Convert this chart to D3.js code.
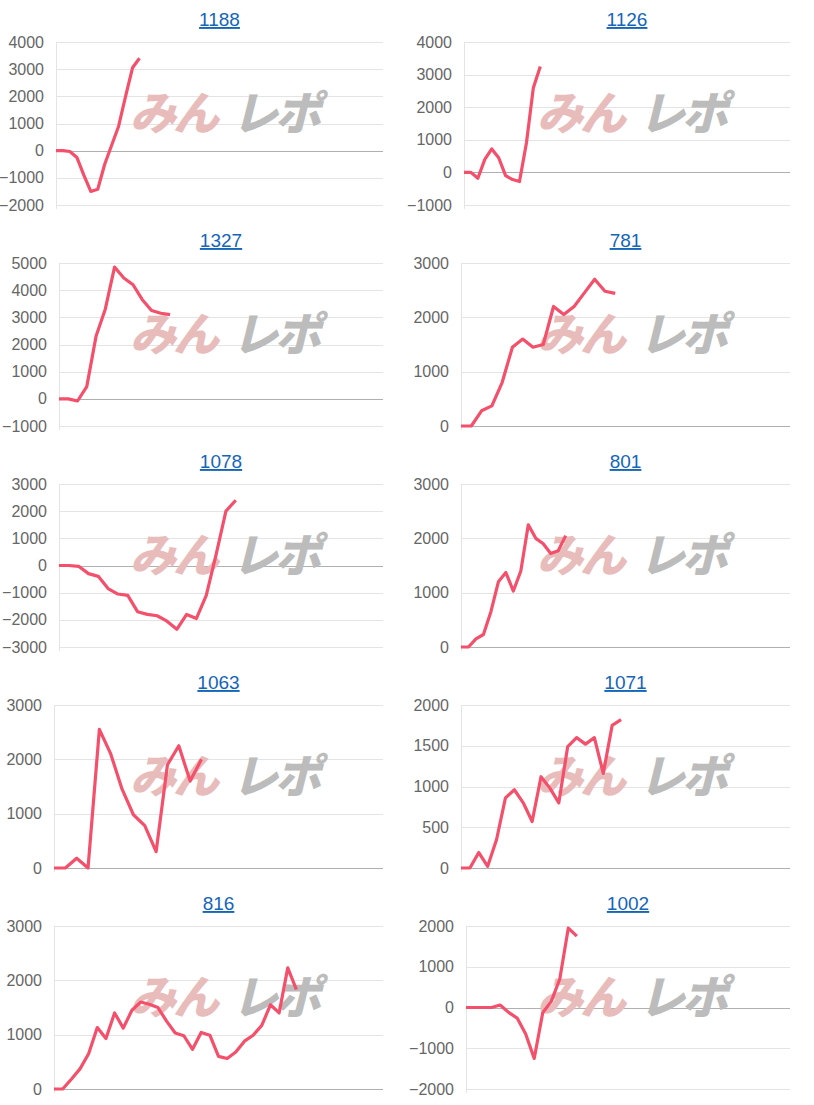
<!DOCTYPE html>
<html><head><meta charset="utf-8">
<script src="https://cdn.jsdelivr.net/npm/d3@7"></script>
<style>body{margin:0;background:#fff}svg{display:block}</style>
</head><body>
<script>
const titles = ["1188","1126","1327","781","1078","801","1063","1071","816","1002"];
const slotCounts = [47,47,35,32,33,44,29,37,38,38];
const yTicks = [
 [-2000,-1000,0,1000,2000,3000,4000],
 [-1000,0,1000,2000,3000,4000],
 [-1000,0,1000,2000,3000,4000,5000],
 [0,1000,2000,3000],
 [-3000,-2000,-1000,0,1000,2000,3000],
 [0,1000,2000,3000],
 [0,1000,2000,3000],
 [0,500,1000,1500,2000],
 [0,1000,2000,3000],
 [-2000,-1000,0,1000,2000]
];
const s1188 = [0,0,-30,-250,-900,-1500,-1420,-500,200,900,2000,3050,3400];
const s1126 = [0,0,-180,400,720,450,-100,-220,-280,900,2600,3250];
const s1327 = [0,0,-80,450,2300,3300,4850,4450,4200,3650,3250,3150,3100];
const s781 = [0,0,280,370,800,1450,1600,1450,1500,2200,2050,2200,2450,2700,2480,2440];
const s1078 = [0,0,-30,-300,-400,-850,-1050,-1100,-1700,-1800,-1850,-2050,-2350,-1800,-1950,-1100,400,2000,2400];
const s801 = [0,0,150,230,650,1200,1370,1030,1400,2250,2000,1900,1720,1770,2050];
const s1063 = [0,0,180,0,2550,2100,1450,980,780,300,1900,2250,1600,2000];
const s1071 = [0,0,190,20,350,860,960,800,570,1120,980,800,1490,1600,1520,1600,1160,1750,1820];
const s816 = [0,0,180,370,650,1130,930,1400,1120,1450,1600,1560,1500,1250,1030,980,730,1040,990,600,560,680,880,990,1170,1550,1400,2230,1830];
const s1002 = [0,0,0,0,60,-120,-260,-650,-1250,-130,150,700,1950,1750];
const series = [s1188,s1126,s1327,s781,s1078,s801,s1063,s1071,s816,s1002];

const W=814,H=1105;
const plotLefts=[56,57,59,54,59,54,54,54,54,59];
const svg=d3.select("body").append("svg").attr("width",W).attr("height",H);
series.forEach((data,i)=>{
  const col=i%2,row=Math.floor(i/2);
  const cx=col*407, cy=row*221;
  const g=svg.append("g").attr("transform",`translate(${cx},${cy})`);
  const left=plotLefts[i], right=383, top=42, bottom=205;
  const ticks=yTicks[i];
  const x=d3.scaleLinear().domain([0,slotCounts[i]]).range([left,right]);
  const y=d3.scaleLinear().domain([ticks[0],ticks[ticks.length-1]]).range([bottom,top]);
  g.append("text").attr("x",(left+right)/2).attr("y",26).attr("text-anchor","middle")
   .attr("font-family","Liberation Sans, Arial").attr("font-size",19).attr("fill","#1565b8")
   .attr("text-decoration","underline").text(titles[i]);
  g.append("g").selectAll("line").data(ticks).join("line")
   .attr("x1",left).attr("x2",right).attr("y1",d=>Math.round(y(d))+0.5).attr("y2",d=>Math.round(y(d))+0.5)
   .attr("stroke",d=>d===0?"#b0b0b0":"#e4e4e4").attr("stroke-width",1);
  g.append("line").attr("x1",left+0.5).attr("x2",left+0.5).attr("y1",top).attr("y2",bottom+4).attr("stroke","#e4e4e4");
  const ax=d3.axisLeft(y).tickValues(ticks).tickSize(0).tickPadding(12).tickFormat(d3.format("d"));
  const ag=g.append("g").attr("transform",`translate(${left},0)`).call(ax);
  ag.select(".domain").remove();
  ag.attr("font-size",null);
  ag.selectAll("text").style("font-family","Liberation Sans, Arial").style("font-size","16px").attr("fill","#666");
  const wm=g.append("g").attr("font-family","Noto Sans CJK JP").attr("font-weight",900).attr("font-size",46)
    .attr("letter-spacing",-3);
  wm.append("text").attr("transform",`translate(130,${top+88}) skewX(-14)`).attr("fill","#e9bcbc").text("みん");
  wm.append("text").attr("transform",`translate(232,${top+88}) skewX(-14)`).attr("fill","#bcbcbc").text("レポ");
  const line=d3.line().x((d,j)=>x(j)).y(d=>y(d));
  g.append("path").datum(data).attr("d",line).attr("fill","none").attr("stroke","#f4506c")
   .attr("stroke-width",3.2).attr("stroke-linejoin","round");
});
</script>
</body></html>
